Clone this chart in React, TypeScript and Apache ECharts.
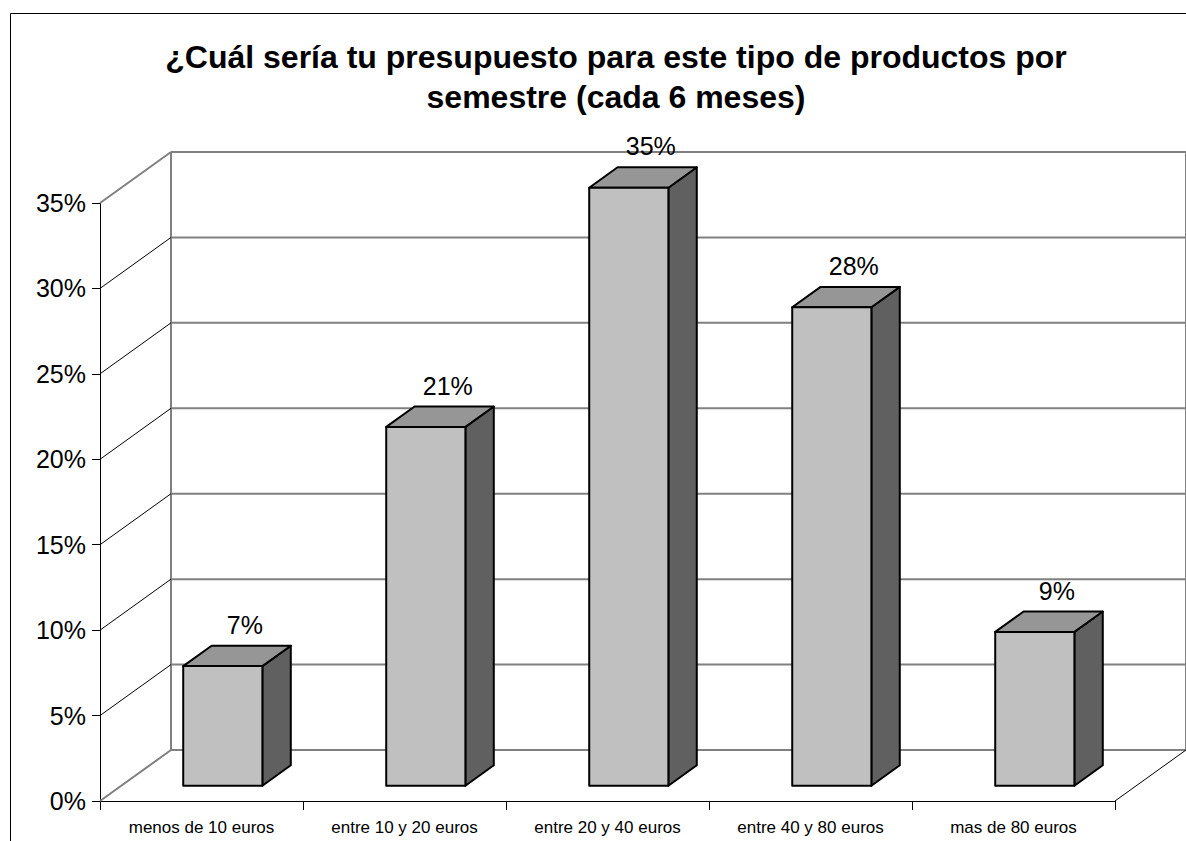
import React, { useEffect, useRef } from "react";
import * as echarts from "echarts";

const titleLines = [
  "¿Cuál sería tu presupuesto para este tipo de productos por",
  "semestre (cada 6 meses)",
];
const categories = [
  "menos de 10 euros",
  "entre 10 y 20 euros",
  "entre 20 y 40 euros",
  "entre 40 y 80 euros",
  "mas de 80 euros",
];
const values = [0.07, 0.21, 0.35, 0.28, 0.09];
const yTicks = [0, 0.05, 0.1, 0.15, 0.2, 0.25, 0.3, 0.35];

const FONT = "Liberation Sans, Arial, sans-serif";
const DX = 71;
const DY = -51;
const F0 = 0.3;
const F1 = 0.7;
const BAR_FRAC = 0.39;

export default function App() {
  const ref = useRef<HTMLDivElement>(null);
  useEffect(() => {
    if (!ref.current) return;
    const chart = echarts.init(ref.current, null, { renderer: "svg" });
    const pct = (v: number) => Math.round(v * 100) + "%";
    chart.setOption({
      animation: false,
      backgroundColor: "#ffffff",
      graphic: [
        {
          type: "rect",
          shape: { x: 10.5, y: 13.5, width: 1300, height: 1000 },
          style: { fill: "none", stroke: "#000", lineWidth: 1 },
          z: 0,
        },
        {
          type: "text",
          x: 616,
          y: 57,
          style: {
            text: titleLines[0],
            font: `bold 32px ${FONT}`,
            fill: "#000",
            textAlign: "center",
            textVerticalAlign: "middle",
          },
        },
        {
          type: "text",
          x: 616,
          y: 97,
          style: {
            text: titleLines[1],
            font: `bold 32px ${FONT}`,
            fill: "#000",
            textAlign: "center",
            textVerticalAlign: "middle",
          },
        },
      ],
      grid: { left: 100, right: 71, top: 203, bottom: 40 },
      xAxis: {
        type: "category",
        data: categories,
        axisLine: { show: true, lineStyle: { color: "#000", width: 1 } },
        axisTick: { show: true, interval: 0, length: 9, lineStyle: { color: "#000" } },
        axisLabel: { interval: 0, color: "#000", fontSize: 17, fontFamily: FONT, margin: 18 },
        splitLine: { show: false },
      },
      yAxis: {
        type: "value",
        min: 0,
        max: 0.35,
        interval: 0.05,
        axisLine: { show: true, lineStyle: { color: "#000", width: 1 } },
        axisTick: { show: true, length: 8, lineStyle: { color: "#000" } },
        axisLabel: {
          color: "#000",
          fontSize: 25,
          fontFamily: FONT,
          margin: 14,
          formatter: (v: number) => pct(v),
        },
        splitLine: { show: false },
      },
      series: [
        {
          type: "custom",
          name: "walls",
          clip: false,
          silent: true,
          z: 1,
          data: yTicks.map((v) => [0, v]),
          renderItem: (params: any, api: any) => {
            const cs = params.coordSys;
            const left = cs.x;
            const right = cs.x + cs.width;
            const v = api.value(1);
            const y = api.coord([0, v])[1];
            const isEdge = params.dataIndex === 0 || params.dataIndex === yTicks.length - 1;
            const children: any[] = [
              {
                type: "line",
                shape: { x1: left, y1: y, x2: left + DX, y2: y + DY },
                style: { stroke: isEdge ? "#808080" : "#000", lineWidth: isEdge ? 2 : 1 },
              },
              {
                type: "line",
                shape: { x1: left + DX, y1: y + DY, x2: right + DX, y2: y + DY },
                style: { stroke: "#808080", lineWidth: 2 },
              },
            ];
            if (params.dataIndex === 0) {
              const yTop = api.coord([0, yTicks[yTicks.length - 1]])[1];
              children.push(
                {
                  type: "line",
                  shape: { x1: left + DX, y1: y + DY, x2: left + DX, y2: yTop + DY },
                  style: { stroke: "#808080", lineWidth: 2 },
                },
                {
                  type: "line",
                  shape: { x1: right + DX, y1: y + DY, x2: right + DX, y2: yTop + DY },
                  style: { stroke: "#808080", lineWidth: 2 },
                },
                {
                  type: "line",
                  shape: { x1: right, y1: y, x2: right + DX, y2: y + DY },
                  style: { stroke: "#000", lineWidth: 1 },
                }
              );
            }
            return { type: "group", children };
          },
        },
        {
          type: "custom",
          name: "bars",
          clip: false,
          z: 3,
          data: values.map((v, i) => [i, v]),
          renderItem: (params: any, api: any) => {
            const i = api.value(0);
            const v = api.value(1);
            const top = api.coord([i, v]);
            const base = api.coord([i, 0]);
            const catW = api.size([1, 0])[0];
            const w = catW * BAR_FRAC;
            const xl = top[0] - w / 2 + F0 * DX;
            const xr = xl + w;
            const yt = top[1] + F0 * DY;
            const yb = base[1] + F0 * DY;
            const ddx = (F1 - F0) * DX;
            const ddy = (F1 - F0) * DY;
            const stroke = { stroke: "#000", lineWidth: 2, lineJoin: "round" };
            return {
              type: "group",
              children: [
                {
                  type: "polygon",
                  shape: {
                    points: [
                      [xr, yt],
                      [xr + ddx, yt + ddy],
                      [xr + ddx, yb + ddy],
                      [xr, yb],
                    ],
                  },
                  style: { fill: "#606060", ...stroke },
                },
                {
                  type: "polygon",
                  shape: {
                    points: [
                      [xl, yt],
                      [xr, yt],
                      [xr + ddx, yt + ddy],
                      [xl + ddx, yt + ddy],
                    ],
                  },
                  style: { fill: "#969696", ...stroke },
                },
                {
                  type: "rect",
                  shape: { x: xl, y: yt, width: w, height: yb - yt },
                  style: { fill: "#C0C0C0", ...stroke },
                },
                {
                  type: "text",
                  x: xl + w / 2 + 22,
                  y: yt + ddy - 21,
                  style: {
                    text: pct(v),
                    font: `25px ${FONT}`,
                    fill: "#000",
                    textAlign: "center",
                    textVerticalAlign: "middle",
                  },
                },
              ],
            };
          },
        },
      ],
    });
    return () => chart.dispose();
  }, []);
  return (
    <div
      ref={ref}
      style={{ position: "fixed", left: 0, top: 0, width: 1186, height: 841, background: "#fff" }}
    />
  );
}
